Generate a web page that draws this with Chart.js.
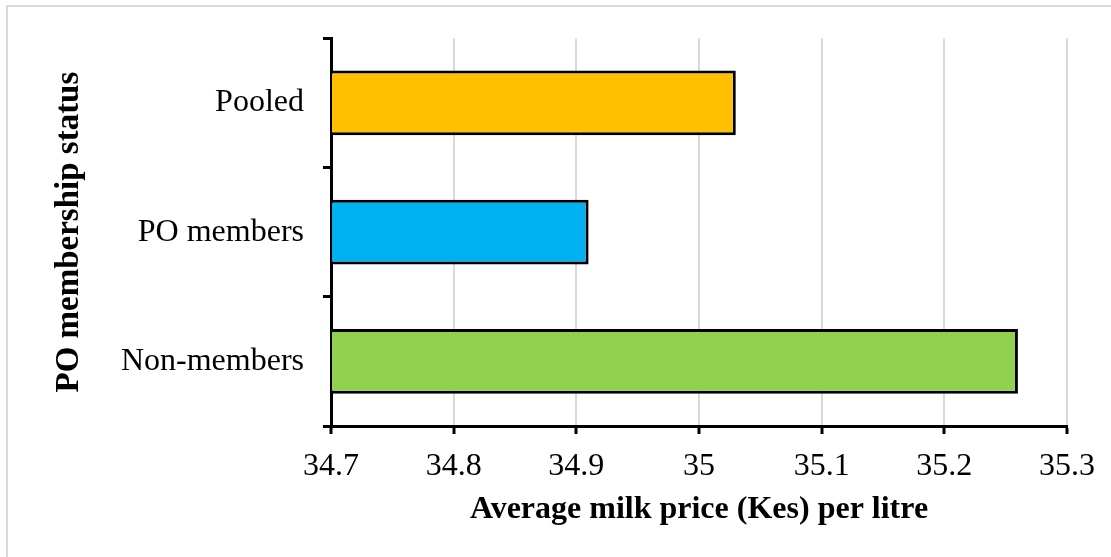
<!DOCTYPE html>
<html>
<head>
<meta charset="utf-8">
<script src="https://cdn.jsdelivr.net/npm/chart.js@4/dist/chart.umd.min.js"></script>
<style>
  html, body { margin: 0; padding: 0; background: #fff; }
  #wrap { width: 1111px; height: 557px; position: relative; }
</style>
</head>
<body>
<div id="wrap"><canvas id="c" width="1111" height="557"></canvas></div>
<script>
// Average milk price per litre by producer-organisation membership
const categories = ['Pooled', 'PO members', 'Non-members'];
const prices = [35.03, 34.91, 35.26];
const barColors = ['#FFC000', '#00B0F0', '#92D050'];
const axisMin = 34.7;
const axisMax = 35.3;
const axisStep = 0.1;

const serif = 'Liberation Serif, Times New Roman, serif';

// Thin grey frame along the top and left edges of the canvas
const framePlugin = {
  id: 'frame',
  beforeDraw(chart) {
    const ctx = chart.ctx;
    ctx.save();
    ctx.fillStyle = '#fff';
    ctx.fillRect(0, 0, chart.width, chart.height);
    ctx.strokeStyle = '#d9d9d9';
    ctx.lineWidth = 2;
    ctx.beginPath();
    ctx.moveTo(7, chart.height);
    ctx.lineTo(7, 6);
    ctx.lineTo(chart.width, 6);
    ctx.stroke();
    ctx.restore();
  }
};

new Chart(document.getElementById('c'), {
  type: 'bar',
  data: {
    labels: categories,
    datasets: [{
      data: prices,
      base: axisMin,
      backgroundColor: barColors,
      borderColor: '#000',
      borderWidth: 3,
      barPercentage: 0.5,
      categoryPercentage: 1.0
    }]
  },
  options: {
    indexAxis: 'y',
    responsive: false,
    animation: false,
    layout: { padding: { top: 32, right: 44, left: 0, bottom: 0 } },
    plugins: { legend: { display: false }, tooltip: { enabled: false } },
    scales: {
      x: {
        min: axisMin,
        max: axisMax,
        ticks: {
          stepSize: axisStep,
          color: '#000',
          font: { family: serif, size: 32 },
          padding: 13,
          callback: (v) => String(Number(Number(v).toFixed(1)))
        },
        grid: { color: '#d9d9d9', lineWidth: 2, tickColor: '#000', tickWidth: 3, tickLength: 8 },
        border: { color: '#000', width: 3 },
        title: {
          display: true,
          text: 'Average milk price (Kes) per litre',
          color: '#000',
          font: { family: serif, size: 32, weight: 'bold' },
          padding: { top: 4, bottom: 28 }
        },
        afterFit(scale) { scale.height = 557 - 426; }
      },
      y: {
        ticks: { color: '#000', font: { family: serif, size: 32 }, padding: 19 },
        grid: { drawOnChartArea: false, offset: true, tickColor: '#000', tickWidth: 3, tickLength: 8 },
        border: { color: '#000', width: 3 },
        title: {
          display: true,
          text: 'PO membership status',
          color: '#000',
          font: { family: serif, size: 33, weight: 'bold' },
          padding: { top: 50, bottom: 0 }
        },
        afterFit(scale) { scale.width = 331; }
      }
    }
  },
  plugins: [framePlugin]
});
</script>
</body>
</html>
